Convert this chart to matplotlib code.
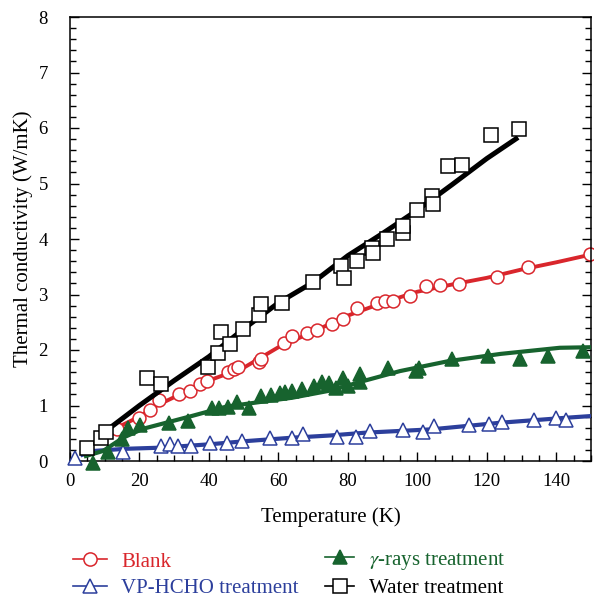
import matplotlib
matplotlib.use("Agg")
import matplotlib.pyplot as plt
from matplotlib.lines import Line2D
from matplotlib.ticker import MultipleLocator

plt.rcParams['font.family'] = ['Liberation Serif', 'DejaVu Serif']
plt.rcParams['mathtext.fontset'] = 'stix'

# ---- measured thermal conductivity (W/mK) vs temperature (K) ----
blank_T = [13.5, 20.0, 23.0, 25.5, 31.5, 34.5, 37.5, 39.5, 45.5, 47.3, 48.3, 54.5,
           55.0, 61.5, 64.0, 68.2, 71.0, 75.5, 78.5, 82.6, 88.3, 90.8, 93.0, 98.0,
           102.6, 106.4, 111.9, 122.9, 131.8, 149.6]
blank_k = [0.58, 0.78, 0.92, 1.10, 1.20, 1.26, 1.38, 1.45, 1.60, 1.66, 1.69, 1.78,
           1.83, 2.13, 2.25, 2.31, 2.36, 2.47, 2.56, 2.76, 2.85, 2.89, 2.89, 2.97,
           3.15, 3.18, 3.19, 3.32, 3.50, 3.73]

vp_T = [1.5, 15.3, 26.2, 28.8, 31.0, 34.8, 40.2, 45.1, 49.5, 57.6, 63.8, 67.0,
        76.9, 82.4, 86.3, 95.8, 101.6, 104.9, 114.8, 120.6, 124.3, 133.5, 139.8, 142.9]
vp_k = [0.05, 0.17, 0.27, 0.30, 0.27, 0.27, 0.32, 0.32, 0.36, 0.42, 0.42, 0.48,
        0.44, 0.44, 0.54, 0.56, 0.53, 0.63, 0.65, 0.67, 0.70, 0.74, 0.78, 0.74]

gamma_T = [6.5, 11.0, 15.0, 16.8, 20.1, 28.5, 34.0, 41.0, 43.0, 45.5, 48.2, 51.5,
           55.0, 58.0, 60.4, 62.0, 64.0, 66.8, 70.2, 72.6, 74.5, 76.5, 78.5, 80.0,
           83.4, 83.4, 91.5, 99.5, 100.5, 110.0, 120.3, 129.5, 137.5, 147.6]
gamma_k = [-0.04, 0.17, 0.40, 0.59, 0.65, 0.68, 0.72, 0.95, 0.96, 0.97, 1.07, 0.96,
           1.18, 1.19, 1.22, 1.25, 1.26, 1.30, 1.35, 1.42, 1.40, 1.32, 1.50, 1.36,
           1.56, 1.42, 1.68, 1.62, 1.68, 1.84, 1.90, 1.84, 1.90, 1.99]

water_T = [5.0, 9.0, 10.5, 22.3, 26.2, 39.8, 42.5, 43.6, 46.0, 49.8, 54.4, 54.9,
           61.0, 69.9, 78.1, 78.8, 82.5, 86.9, 87.1, 91.2, 95.8, 95.8, 99.9, 104.2,
           104.5, 108.8, 112.8, 121.1, 129.4]
water_k = [0.23, 0.42, 0.52, 1.49, 1.38, 1.70, 1.94, 2.32, 2.11, 2.38, 2.63, 2.82,
           2.85, 3.23, 3.51, 3.29, 3.61, 3.84, 3.75, 4.00, 4.10, 4.24, 4.53, 4.78,
           4.63, 5.32, 5.34, 5.88, 5.99]

# ---- fitted trend curves ----
blank_fit_T = [10, 13.5, 20, 25, 30, 40, 50, 60, 70, 80, 90, 100, 110, 120, 130, 140, 150]
blank_fit_k = [0.45, 0.60, 0.80, 1.00, 1.15, 1.45, 1.68, 2.05, 2.33, 2.62, 2.85, 3.05,
               3.18, 3.30, 3.45, 3.58, 3.72]

vp_fit_T = [3, 6.6, 16, 26, 40, 51, 64, 75, 85, 104, 124, 143, 150]
vp_fit_k = [0.10, 0.18, 0.22, 0.24, 0.30, 0.36, 0.42, 0.46, 0.51, 0.57, 0.69, 0.78, 0.81]

gamma_fit_T = [4, 9.5, 15.3, 21, 35, 45, 56.7, 64, 75, 85, 95, 109, 124, 141, 150]
gamma_fit_k = [0.08, 0.18, 0.42, 0.58, 0.81, 0.98, 1.08, 1.14, 1.27, 1.45, 1.62, 1.80,
               1.93, 2.04, 2.05]

water_fit_T = [8, 12, 20, 30, 40, 50, 60, 70, 80, 90, 100, 110, 120, 129]
water_fit_k = [0.42, 0.62, 1.00, 1.45, 1.88, 2.38, 2.85, 3.22, 3.70, 4.10, 4.52, 4.98,
               5.45, 5.83]

RED = '#d9262c'
BLUE = '#2c3f9c'
GREEN = '#17632e'
BLACK = '#000000'

fig = plt.figure(figsize=(5.94, 5.98), dpi=100)
ax = fig.add_axes([70 / 594, 1 - 461 / 598, 521 / 594, 444 / 598])

series = [
    (blank_fit_T, blank_fit_k, blank_T, blank_k, RED, 'o', 'white', 9.3, 2.8),
    (vp_fit_T, vp_fit_k, vp_T, vp_k, BLUE, '^', 'white', 10.5, 3.0),
    (gamma_fit_T, gamma_fit_k, gamma_T, gamma_k, GREEN, '^', GREEN, 10.5, 3.0),
    (water_fit_T, water_fit_k, water_T, water_k, BLACK, 's', 'white', 10.0, 3.6),
]
z = 2
for fT, fk, T, k, col, mk, fc, ms, lw in series:
    ax.plot(fT, fk, color=col, lw=lw, solid_capstyle='butt', zorder=z)
    ax.plot(T, k, ls='none', marker=mk, ms=ms, mfc=fc, mec=col, mew=1.1,
            zorder=z + 0.5, clip_on=False)
    z += 1

ax.set_xlim(0, 150)
ax.set_ylim(0, 8)
ax.xaxis.set_major_locator(MultipleLocator(20))
ax.xaxis.set_minor_locator(MultipleLocator(5))
ax.yaxis.set_major_locator(MultipleLocator(1))
ax.yaxis.set_minor_locator(MultipleLocator(0.2))
ax.tick_params(which='both', direction='in', top=False, right=True, width=1.0,
               colors='black', labelsize=13.5)
ax.tick_params(which='major', length=6.5)
ax.tick_params(which='minor', length=4.2)
ax.tick_params(axis='x', pad=9)
ax.tick_params(axis='y', pad=16)
for sp in ax.spines.values():
    sp.set_linewidth(1.1)

ax.set_xlabel('Temperature (K)', fontsize=15, labelpad=12)
ax.set_ylabel('Thermal conductivity (W/mK)', fontsize=15, labelpad=4)

# legend, two columns below the axes
def handle(col, mk, fc):
    return Line2D([], [], color=col, lw=1.2, marker=mk, ms=9.5, mfc=fc, mec=col, mew=1.1)

leg1 = fig.legend([handle(RED, 'o', 'white'), handle(BLUE, '^', 'white')],
                  ['Blank', 'VP-HCHO treatment'],
                  loc='upper left', bbox_to_anchor=(73 / 594, 1 - 552 / 598),
                  frameon=False, fontsize=15, handlelength=1.63, handletextpad=0.67,
                  labelspacing=0.32, borderpad=0, borderaxespad=0)
for t, c in zip(leg1.get_texts(), [RED, BLUE]):
    t.set_color(c)
leg2 = fig.legend([handle(GREEN, '^', GREEN), handle(BLACK, 's', 'white')],
                  [r'$\gamma$-rays treatment', 'Water treatment'],
                  loc='upper left', bbox_to_anchor=(325 / 594, 1 - 550 / 598),
                  frameon=False, fontsize=15, handlelength=1.4, handletextpad=0.72,
                  labelspacing=0.32, borderpad=0, borderaxespad=0)
for t, c in zip(leg2.get_texts(), [GREEN, BLACK]):
    t.set_color(c)

fig.savefig('out.png', dpi=100)
